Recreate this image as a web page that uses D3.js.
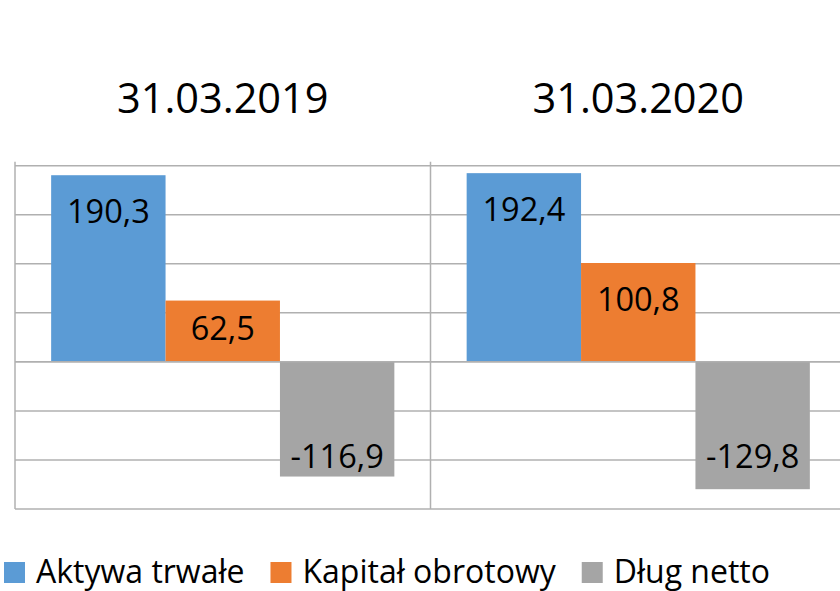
<!DOCTYPE html>
<meta charset="utf-8">
<style>
  body { margin: 0; background: #fff; }
  text { font-family: "Open Sans", "DejaVu Sans", sans-serif; fill: #000; }
</style>
<body>
<script src="https://cdn.jsdelivr.net/npm/d3@7"></script>
<script>

    var dates = ["31.03.2019", "31.03.2020"];
    var series = ["Aktywa trwałe", "Kapitał obrotowy", "Dług netto"];
    var aktywa = [190.3, 192.4];
    var kapital = [62.5, 100.8];
    var dlug = [-116.9, -129.8];
    var yTicks = [-150, -100, -50, 0, 50, 100, 150, 200];

    var width = 840,
        height = 591;

    var colors = d3.scaleOrdinal()
            .domain(series)
            .range(["#5b9bd5", "#ed7d31", "#a5a5a5"]);

    var values = [aktywa, kapital, dlug];
    var rows = [];
    dates.forEach(function(d, i) {
        series.forEach(function(s, j) {
            rows.push({date: d, series: s, value: values[j][i]});
        });
    });

    var svg = d3.select("body").append("svg")
            .attr("width", width)
            .attr("height", height);

    var x0 = d3.scaleBand()
            .domain(dates)
            .range([15, 846])
            .paddingInner(0)
            .paddingOuter(0);

    var x1 = d3.scaleBand()
            .domain(series)
            .range([0, x0.bandwidth()])
            .paddingInner(0)
            .paddingOuter(0.316);

    var y = d3.scaleLinear()
            .domain([-150, 200])
            .range([509, 165.7]);

    // gridlines
    svg.append("g").selectAll("line")
            .data(yTicks)
            .enter().append("line")
            .attr("x1", 15)
            .attr("x2", 846)
            .attr("y1", function(d) { return y(d); })
            .attr("y2", function(d) { return y(d); })
            .attr("stroke", "#b0b0b0")
            .attr("stroke-width", 1.5);

    // category separators
    var seps = dates.map(function(d) { return x0(d); }).concat([x0.range()[1]]);
    svg.append("g").selectAll("line")
            .data(seps)
            .enter().append("line")
            .attr("x1", function(d) { return d; })
            .attr("x2", function(d) { return d; })
            .attr("y1", y(200) - 4)
            .attr("y2", y(-150))
            .attr("stroke", "#b0b0b0")
            .attr("stroke-width", 1.5);

    // bars
    svg.append("g").selectAll("rect")
            .data(rows)
            .enter().append("rect")
            .attr("x", function(d) { return x0(d.date) + x1(d.series); })
            .attr("width", x1.bandwidth())
            .attr("y", function(d) { return y(Math.max(0, d.value)); })
            .attr("height", function(d) { return Math.abs(y(d.value) - y(0)); })
            .attr("fill", function(d) { return colors(d.series); });

    // zero line on top
    svg.append("line")
            .attr("x1", 15)
            .attr("x2", 846)
            .attr("y1", y(0))
            .attr("y2", y(0))
            .attr("stroke", "#b0b0b0")
            .attr("stroke-width", 1.5);

    // data labels
    var fmt = function(v) { return d3.format(".1f")(v).replace(".", ",").replace("−", "-"); };
    svg.append("g").selectAll("text")
            .data(rows)
            .enter().append("text")
            .attr("x", function(d) { return x0(d.date) + x1(d.series) + x1.bandwidth() / 2; })
            .attr("y", function(d) {
                if (d.value >= 0) return Math.min(y(d.value) + 47.7, y(0) - 22);
                return y(0) + 106.5;
            })
            .attr("text-anchor", "middle")
            .style("font-size", "32.5px")
            .text(function(d) { return fmt(d.value); });

    // date titles
    svg.append("g").selectAll("text")
            .data(dates)
            .enter().append("text")
            .attr("x", function(d) { return x0(d) + x0.bandwidth() / 2; })
            .attr("y", 113.3)
            .attr("text-anchor", "middle")
            .style("font-size", "41.5px")
            .text(function(d) { return d; });

    // legend
    var legend = svg.append("g");
    var lx = 4;
    series.forEach(function(s) {
        legend.append("rect")
                .attr("x", lx)
                .attr("y", 562)
                .attr("width", 21)
                .attr("height", 21)
                .attr("fill", colors(s));
        var t = legend.append("text")
                .attr("x", lx + 32)
                .attr("y", 582.5)
                .style("font-size", "32px")
                .text(s);
        lx += 32 + t.node().getComputedTextLength() + 26;
    });

</script>
